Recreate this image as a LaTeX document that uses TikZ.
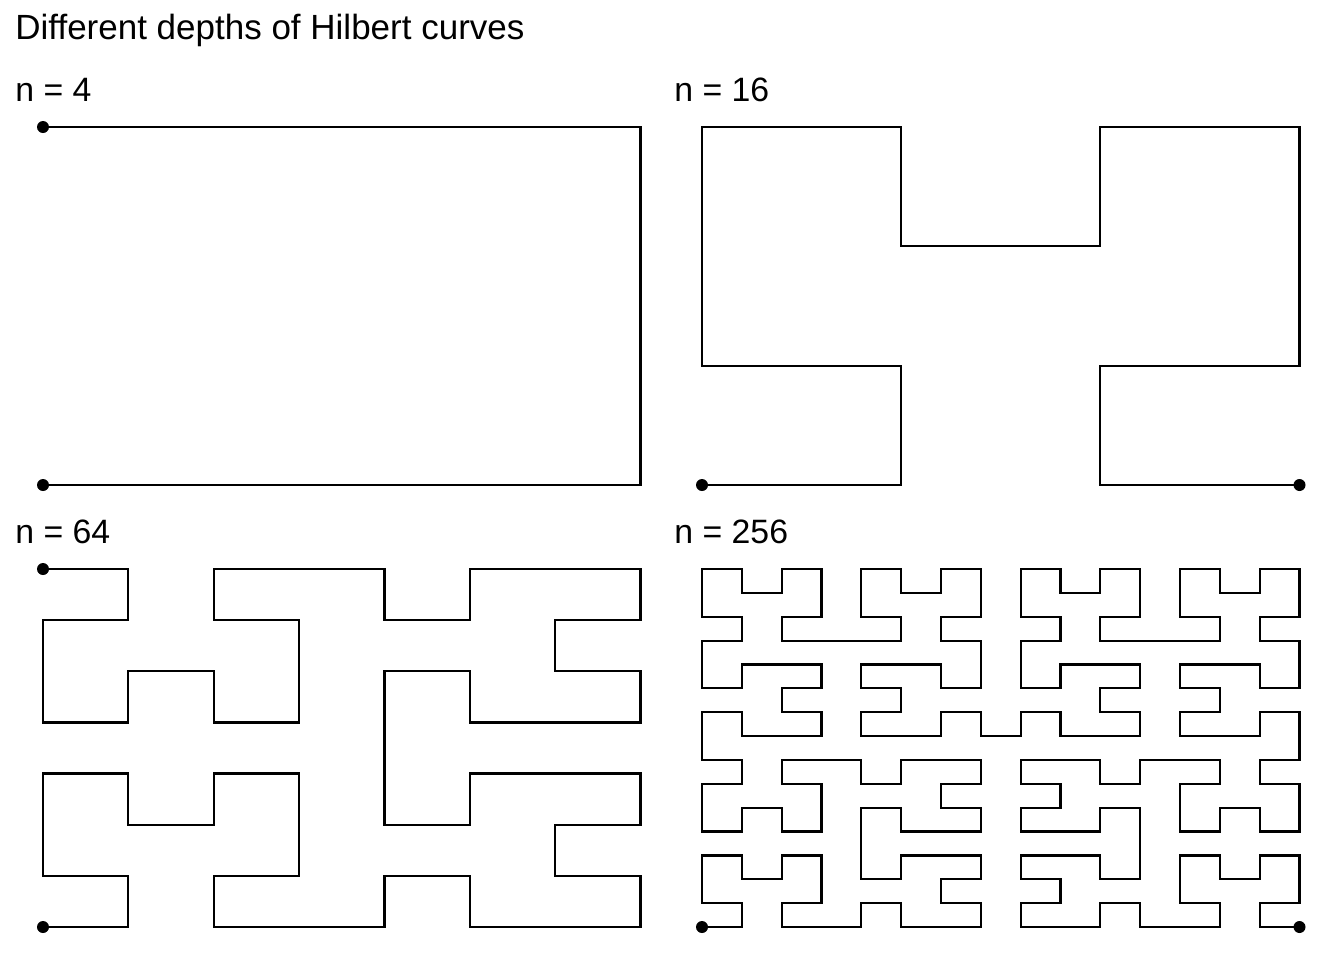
\documentclass[tikz,border=0pt]{standalone}
\usepackage{fontspec}
\setmainfont{Liberation Sans}
\usetikzlibrary{positioning}

\newcount\hilx \newcount\hily \newcount\hilt \newcount\hils
\newcount\hilrx \newcount\hilry \newcount\hilq

% cell of step #2 on a Hilbert curve of side #1, into \hilx, \hily
\newcommand\hilbertxy[2]{%
  \hilt=#2\relax \hilx=0 \hily=0 \hils=1
  \loop\ifnum\hils<#1\relax
    \hilq=\hilt \divide\hilq by 2
    \hilrx=\hilq \divide\hilrx by 2 \multiply\hilrx by 2
    \hilrx=\numexpr\hilq-\hilrx\relax
    \hilry=\numexpr\hilt+\hilrx\relax
    \hilq=\hilry \divide\hilq by 2 \multiply\hilq by 2
    \hilry=\numexpr\hilry-\hilq\relax
    \ifnum\hilry=0
      \ifnum\hilrx=1
        \hilx=\numexpr\hils-1-\hilx\relax
        \hily=\numexpr\hils-1-\hily\relax
      \fi
      \hilq=\hilx \hilx=\hily \hily=\hilq
    \fi
    \advance\hilx by \numexpr\hils*\hilrx\relax
    \advance\hily by \numexpr\hils*\hilry\relax
    \divide\hilt by 4
    \multiply\hils by 2
  \repeat}

% whole curve of side #1 into \hilpath, turned a quarter when #2=1
\newcommand\hilbertpath[2]{%
  \pgfmathtruncatemacro\hillast{#1*#1-1}%
  \foreach \k in {0,...,\hillast}{%
    \hilbertxy{#1}{\k}%
    \ifnum#2=1 \hilq=\hilx \hilx=\hily \hily=\numexpr#1-1-\hilq\relax \fi
    \ifnum\k=0
      \xdef\hilpath{(\the\hilx,\the\hily)}%
      \xdef\hilsx{\the\hilx}\xdef\hilsy{\the\hily}%
    \else
      \xdef\hilpath{\hilpath -- (\the\hilx,\the\hily)}%
    \fi
    \xdef\hilex{\the\hilx}\xdef\hiley{\the\hily}%
  }}

\tikzset{
  curve/.style={line width=1.1pt, line join=miter},
  enddot/.style={circle, fill, inner sep=0pt, minimum size=6pt},
  label/.style={anchor=base west, inner sep=0pt, font=\fontsize{16.9}{20}\selectfont},
  titletext/.style={label, font=\fontsize{17.5}{21}\selectfont},
}

\begin{document}
\begin{tikzpicture}[x=0.5pt, y=-0.5pt]
  \useasboundingbox (0,0) rectangle (1344,960);

  \node[titletext] (title) at (15,39) {Different depths of Hilbert curves};

  \foreach \side/\px/\py/\turn/\lab in {2/43/485/1/4, 4/702/485/0/16, 8/43/927/1/64, 16/702/927/0/256}{
    \node[label] (n\lab) at (\px-28,\py-384) {n = \lab};
    \hilbertpath{\side}{\turn}
    \begin{scope}[shift={(\px,\py)}, x={({597.5/(\side-1)},0)}, y={(0,{-358/(\side-1)})}]
      \draw[curve] \hilpath;
      \node[enddot] (start\lab) at (\hilsx,\hilsy) {};
      \node[enddot] (end\lab) at (\hilex,\hiley) {};
    \end{scope}
  }
\end{tikzpicture}
\end{document}
